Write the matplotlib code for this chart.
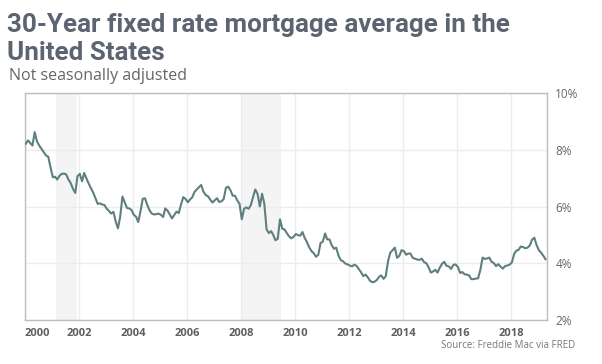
import matplotlib
matplotlib.use("Agg")
import matplotlib.pyplot as plt
import numpy as np
import pandas as pd

# monthly 30-year fixed mortgage rate (%)
rates_2000 = [8.21, 8.33, 8.24, 8.15, 8.62, 8.29, 8.15, 8.03, 7.91, 7.80, 7.75, 7.38]
rates_2001 = [7.03, 7.05, 6.95, 7.08, 7.15, 7.16, 7.13, 6.95, 6.82, 6.62, 6.48, 7.07]
rates_2002 = [7.15, 6.89, 7.18, 6.99, 6.81, 6.65, 6.49, 6.29, 6.09, 6.11, 6.07, 6.05]
rates_2003 = [5.92, 5.84, 5.75, 5.81, 5.48, 5.23, 5.63, 6.35, 6.15, 5.95, 5.93, 5.88]
rates_2004 = [5.71, 5.64, 5.45, 5.83, 6.27, 6.29, 6.06, 5.87, 5.75, 5.72, 5.73, 5.75]
rates_2005 = [5.71, 5.63, 5.93, 5.86, 5.72, 5.58, 5.70, 5.82, 5.77, 6.07, 6.33, 6.27]
rates_2006 = [6.15, 6.25, 6.32, 6.51, 6.60, 6.68, 6.76, 6.52, 6.40, 6.36, 6.24, 6.14]
rates_2007 = [6.22, 6.29, 6.16, 6.18, 6.26, 6.66, 6.70, 6.57, 6.38, 6.38, 6.21, 6.10]
rates_2008 = [5.55, 5.92, 5.97, 5.92, 6.04, 6.32, 6.60, 6.45, 6.00, 6.45, 6.10, 5.20]
rates_2009 = [5.06, 5.13, 5.00, 4.81, 4.86, 5.55, 5.22, 5.19, 5.06, 4.95, 4.88, 4.93]
rates_2010 = [5.03, 4.99, 4.97, 5.10, 4.89, 4.74, 4.56, 4.43, 4.35, 4.23, 4.30, 4.71]
rates_2011 = [4.76, 5.05, 4.84, 4.84, 4.64, 4.51, 4.55, 4.27, 4.11, 4.07, 3.99, 3.96]
rates_2012 = [3.92, 3.89, 3.95, 3.91, 3.80, 3.68, 3.55, 3.60, 3.50, 3.38, 3.33, 3.35]
rates_2013 = [3.41, 3.53, 3.57, 3.45, 3.54, 4.07, 4.37, 4.46, 4.55, 4.19, 4.26, 4.46]
rates_2014 = [4.43, 4.30, 4.34, 4.34, 4.19, 4.16, 4.13, 4.12, 4.16, 4.04, 4.00, 3.86]
rates_2015 = [3.67, 3.71, 3.77, 3.67, 3.84, 3.98, 4.05, 3.91, 3.89, 3.80, 3.94, 3.96]
rates_2016 = [3.87, 3.66, 3.69, 3.61, 3.60, 3.57, 3.44, 3.44, 3.46, 3.47, 3.77, 4.20]
rates_2017 = [4.15, 4.17, 4.20, 4.05, 4.01, 3.90, 3.97, 3.88, 3.81, 3.90, 3.92, 3.95]
rates_2018 = [4.03, 4.33, 4.44, 4.47, 4.59, 4.57, 4.53, 4.55, 4.63, 4.83, 4.90, 4.64]
rates_2019 = [4.46, 4.37, 4.27, 4.14]

rates = (rates_2000 + rates_2001 + rates_2002 + rates_2003 + rates_2004
         + rates_2005 + rates_2006 + rates_2007 + rates_2008 + rates_2009
         + rates_2010 + rates_2011 + rates_2012 + rates_2013 + rates_2014
         + rates_2015 + rates_2016 + rates_2017 + rates_2018 + rates_2019)
dates = pd.date_range("2000-01-01", periods=len(rates), freq="MS") + pd.Timedelta(days=10)

# recessions (shaded)
recessions = [("2001-03-01", "2001-11-30"), ("2008-01-01", "2009-06-30")]

year_ticks = list(range(2000, 2019, 2))
pct_ticks = [2, 4, 6, 8, 10]

title_color = "#5c6472"
line_color = "#5f7e7e"
grid_color = "#ececec"
spine_color = "#bdbdbd"

fig = plt.figure(figsize=(6.02, 3.64), dpi=100)
ax = fig.add_axes([25 / 602, 44 / 364, 522 / 602, 227 / 364])

for start, end in recessions:
    ax.axvspan(pd.Timestamp(start), pd.Timestamp(end), color="#f4f4f4", lw=0, zorder=0)

ax.plot(dates, rates, color=line_color, lw=1.5, zorder=3)

ax.set_xlim(pd.Timestamp("2000-01-01"), pd.Timestamp("2019-05-01"))
ax.set_ylim(2, 10)

ax.set_xticks([pd.Timestamp(f"{y}-01-01") for y in year_ticks])
ax.set_xticklabels([str(y) for y in year_ticks])
ax.set_yticks(pct_ticks)
ax.set_yticklabels([f"{p}%" for p in pct_ticks])

ax.yaxis.tick_right()
ax.tick_params(axis="both", length=0)
ax.tick_params(axis="x", pad=6, labelsize=8, labelcolor="#5f5f5f")
ax.tick_params(axis="y", pad=6, labelsize=8.5, labelcolor="#666666")
for lab in ax.get_xticklabels():
    lab.set_fontfamily("Open Sans")
    lab.set_fontweight("bold")
for lab in ax.get_yticklabels():
    lab.set_fontfamily("Open Sans")
ax.get_xticklabels()[0].set_horizontalalignment("left")

ax.grid(True, color=grid_color, lw=1, zorder=1)
ax.set_axisbelow(True)
for s in ax.spines.values():
    s.set_color(spine_color)
    s.set_linewidth(1)

fig.text(7 / 602, 1 - 32 / 364, "30-Year fixed rate mortgage average in the",
         fontsize=18.7, fontweight="bold", family="Roboto", color=title_color,
         va="baseline", ha="left")
fig.text(7 / 602, 1 - 60 / 364, "United States",
         fontsize=18.7, fontweight="bold", family="Roboto", color=title_color,
         va="baseline", ha="left")
fig.text(9 / 602, 1 - 80 / 364, "Not seasonally adjusted",
         fontsize=11.5, family="Open Sans", color="#666666", va="baseline", ha="left")
fig.text(575 / 602, 1 - 348 / 364, "Source: Freddie Mac via FRED",
         fontsize=7, family="Open Sans", color="#777777", va="baseline", ha="right")

fig.savefig("out.png", dpi=100)
